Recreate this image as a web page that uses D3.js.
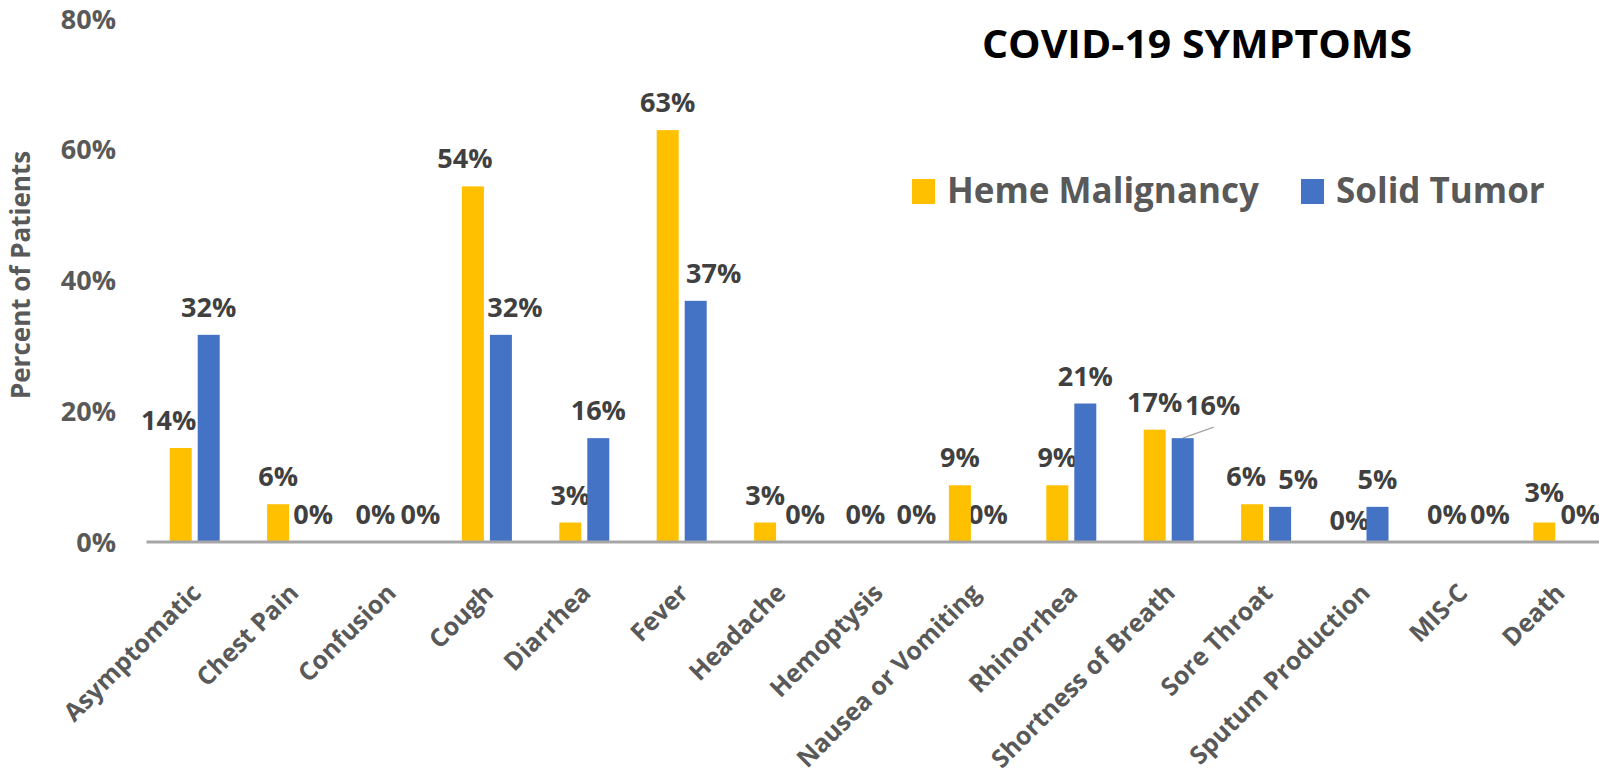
<!DOCTYPE html>
<html><head><meta charset="utf-8">
<script src="https://cdn.jsdelivr.net/npm/d3@7"></script>
<style>body{margin:0;background:#fff;} svg{display:block;}</style>
</head><body>
<svg id="chart" width="1599" height="782"></svg>
<script>
// ---- data ----
const categories = ["Asymptomatic","Chest Pain","Confusion","Cough","Diarrhea","Fever","Headache","Hemoptysis","Nausea or Vomiting","Rhinorrhea","Shortness of Breath","Sore Throat","Sputum Production","MIS-C","Death"];
const seriesNames = ["Heme Malignancy","Solid Tumor"];
const hemeValues  = [14.3, 5.7, 0, 54.3, 2.9, 62.9, 2.9, 0, 8.6, 8.6, 17.1, 5.7, 0, 0, 2.9];
const solidValues = [31.6, 0, 0, 31.6, 15.8, 36.8, 0, 0, 0, 21.1, 15.8, 5.3, 5.3, 0, 0];
const yTicks = [0, 20, 40, 60, 80];
const chartTitle = "COVID-19 SYMPTOMS";
const yAxisTitle = "Percent of Patients";

// ---- layout / style (not data) ----
const colors = ["#FFC000", "#4472C4"];
const fontFam = "'Open Sans', 'DejaVu Sans', sans-serif";
// manual label nudges (series index|category) -> [dx, dy], as placed in the original
const labelNudge = {
  "0|Asymptomatic": [-12, 0], "0|Cough": [-8, 0], "0|Hemoptysis": [3, 0], "0|Sore Throat": [-6, 0],
  "0|Sputum Production": [0, 6], "0|Death": [0, -3],
  "1|Chest Pain": [7, 0], "1|Confusion": [17, 0], "1|Cough": [14, 0], "1|Fever": [18, 0],
  "1|Headache": [12, 0], "1|Hemoptysis": [26, 0], "1|Shortness of Breath": [30, -5],
  "1|Sore Throat": [18, 0], "1|MIS-C": [15, 0], "1|Death": [8, 0]
};
const leaderLabels = ["1|Shortness of Breath"];

const svg = d3.select("#chart");
const plotLeft = 146, step = 97.4, baseY = 541.5, topY = 18.3;

const x = d3.scaleBand().domain(categories).range([plotLeft, plotLeft + step * categories.length]);
const sub = d3.scaleBand().domain([0, 1]).range([23.7, 73.7]).paddingInner(0.214);
const y = d3.scaleLinear().domain([0, 80]).range([baseY, topY]);

const rows = categories.map((c, i) => ({cat: c, vals: [hemeValues[i], solidValues[i]]}));

// y axis
const yAxis = svg.append("g").attr("transform", `translate(${plotLeft},0)`)
  .call(d3.axisLeft(y).tickValues(yTicks).tickFormat(d => d + "%").tickSize(0).tickPadding(30));
yAxis.select(".domain").remove();
yAxis.selectAll("text").attr("font-family", fontFam).attr("font-size", 27).attr("font-weight", 700)
  .attr("fill", "#595959").attr("dy", "0.36em");

// y axis title
svg.append("text").attr("transform", "translate(30,275) rotate(-90)")
  .attr("text-anchor", "middle").attr("font-family", fontFam).attr("font-size", 26)
  .attr("font-weight", 700).attr("fill", "#595959").text(yAxisTitle);

// data labels (drawn beneath bars, as in the original)
const labels = [];
rows.forEach(r => r.vals.forEach((v, s) => {
  const key = s + "|" + r.cat;
  const n = labelNudge[key] || [0, 0];
  const cx = x(r.cat) + sub(s) + sub.bandwidth() / 2;
  labels.push({key, cx, v, lx: cx + n[0], ly: y(v) - 18 + n[1]});
}));
svg.append("g").selectAll("text").data(labels).join("text")
  .attr("x", d => d.lx).attr("y", d => d.ly).attr("text-anchor", "middle")
  .attr("font-family", fontFam).attr("font-size", 27).attr("font-weight", 700)
  .attr("fill", "#404040").text(d => Math.round(d.v) + "%");
svg.append("g").selectAll("line").data(labels.filter(d => leaderLabels.includes(d.key))).join("line")
  .attr("x1", d => d.cx).attr("y1", d => y(d.v))
  .attr("x2", d => d.lx + 1).attr("y2", d => d.ly + 12)
  .attr("stroke", "#a6a6a6").attr("stroke-width", 1.2);

// bars
svg.append("g").selectAll("g").data(rows).join("g")
  .attr("transform", d => `translate(${x(d.cat)},0)`)
  .selectAll("rect").data(d => d.vals.map((v, s) => ({v, s}))).join("rect")
  .attr("x", d => sub(d.s)).attr("width", sub.bandwidth())
  .attr("y", d => y(d.v)).attr("height", d => baseY - y(d.v))
  .attr("fill", d => colors[d.s]);

// x axis
const xAxis = svg.append("g").attr("transform", `translate(0,${baseY})`)
  .call(d3.axisBottom(x).tickSize(0).tickSizeOuter(0));
xAxis.select(".domain").attr("stroke", "#a6a6a6").attr("stroke-width", 3);
xAxis.selectAll("text").attr("x", 0).attr("y", 0).attr("dy", 0)
  .attr("transform", "translate(8,53) rotate(-45)").attr("text-anchor", "end")
  .attr("font-family", fontFam).attr("font-size", 25).attr("font-weight", 700).attr("fill", "#595959");

// title
svg.append("text").attr("x", 1197).attr("y", 58).attr("text-anchor", "middle")
  .attr("font-family", fontFam).attr("font-size", 40).attr("font-weight", 700).attr("fill", "#000")
  .attr("textLength", 430).attr("lengthAdjust", "spacingAndGlyphs").text(chartTitle);

// legend
const legend = svg.append("g");
const legX = [912, 1301];
seriesNames.forEach((name, i) => {
  legend.append("rect").attr("x", legX[i]).attr("y", 179).attr("width", 23).attr("height", 25).attr("fill", colors[i]);
  legend.append("text").attr("x", legX[i] + 35).attr("y", 203)
    .attr("font-family", fontFam).attr("font-size", 35).attr("font-weight", 700)
    .attr("fill", "#595959").text(name);
});
</script>
</body></html>
